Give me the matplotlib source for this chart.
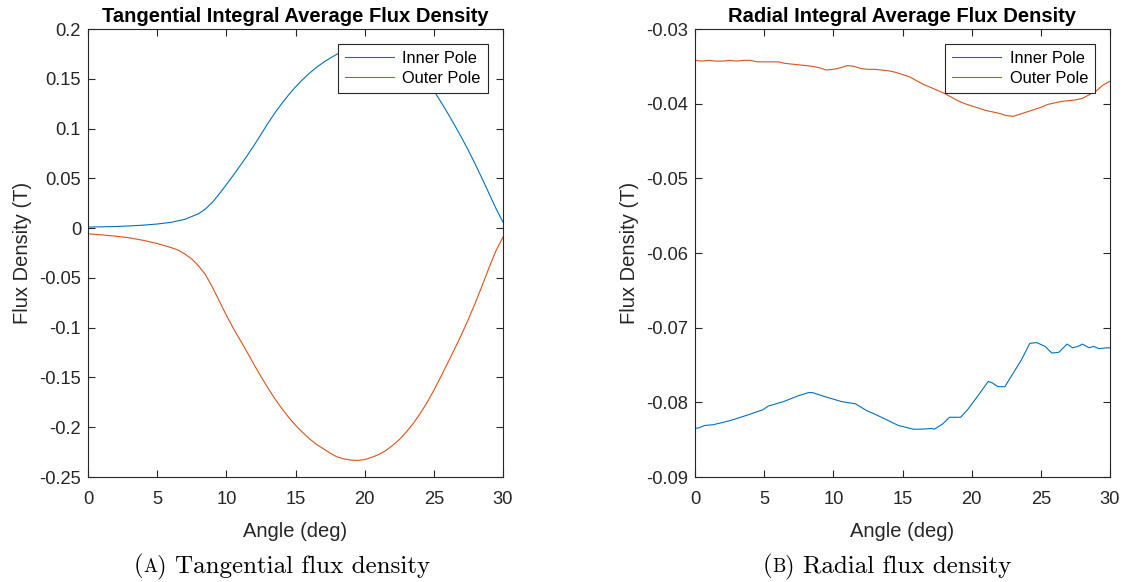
import matplotlib
matplotlib.use("Agg")
import matplotlib.pyplot as plt
from matplotlib.ticker import FormatStrFormatter
from matplotlib.offsetbox import TextArea, HPacker, AnnotationBbox

# tangential integral average flux density (T)
tan_in_angle = [0, 1, 2, 3, 4, 5, 6, 7, 8, 8.5, 9, 9.5, 10, 10.5, 11, 11.5, 12, 12.5, 13, 13.5,
                14, 14.5, 15, 15.5, 16, 16.5, 17, 17.5, 18, 18.5, 19, 19.5, 20, 21, 22, 23, 24,
                25, 25.5, 26, 26.5, 27, 27.5, 28, 28.5, 29, 29.5, 30]
tan_inner = [0.001, 0.0013, 0.0016, 0.0022, 0.003, 0.0041, 0.0058, 0.0088, 0.0145, 0.0194,
             0.026, 0.0345, 0.0437, 0.053, 0.0627, 0.0727, 0.083, 0.094, 0.1052, 0.1155,
             0.125, 0.1338, 0.1418, 0.149, 0.1555, 0.1613, 0.1663, 0.1707, 0.1747, 0.178,
             0.1808, 0.1828, 0.184, 0.1835, 0.178, 0.168, 0.155, 0.138, 0.127, 0.1155,
             0.1035, 0.091, 0.078, 0.064, 0.0495, 0.0345, 0.0195, 0.006]

tan_out_angle = [0, 1, 2, 3, 4, 5, 6, 6.5, 7, 7.5, 8, 8.5, 9, 9.5, 10, 10.5, 11, 11.5, 12, 12.5,
                 13, 13.5, 14, 14.5, 15, 15.5, 16, 16.5, 17, 17.5, 18, 18.5, 19, 19.5, 20, 20.5,
                 21, 21.5, 22, 22.5, 23, 23.5, 24, 24.5, 25, 25.5, 26, 26.5, 27, 27.5, 28, 28.5,
                 29, 29.5, 30]
tan_outer = [-0.0057, -0.0068, -0.0081, -0.0098, -0.0123, -0.0155, -0.0195, -0.022, -0.026,
             -0.031, -0.038, -0.047, -0.0595, -0.0735, -0.0875, -0.1005, -0.1125, -0.1245,
             -0.137, -0.149, -0.1605, -0.1712, -0.181, -0.190, -0.198, -0.205, -0.2115,
             -0.217, -0.2215, -0.226, -0.2298, -0.2318, -0.233, -0.2333, -0.2325, -0.2303,
             -0.2275, -0.2238, -0.2185, -0.2125, -0.205, -0.1965, -0.1865, -0.1755, -0.163,
             -0.1495, -0.1355, -0.1215, -0.107, -0.0915, -0.075, -0.0575, -0.0395, -0.0225,
             -0.009]

# radial integral average flux density (T)
rad_out_angle = [0.0, 0.5, 1.0, 1.5, 2.0, 2.5, 3.0, 3.5, 4.0, 4.5, 5.0, 5.5, 6.0, 6.5, 7.0, 7.5,
                 8.0, 8.5, 9.0, 9.5, 10.0, 10.5, 11.0, 11.5, 12.0, 12.5, 13.0, 13.5, 14.0, 14.5,
                 15.0, 15.5, 16.0, 16.5, 17.0, 17.5, 18.0, 18.5, 19.0, 19.5, 20.0, 20.5, 21.0,
                 21.5, 22.0, 22.5, 23.0, 23.5, 24.0, 24.5, 25.0, 25.5, 26.0, 26.5, 27.0, 27.5,
                 28.0, 28.5, 29.0, 29.5, 30.0]
rad_outer = [-0.0342, -0.0343, -0.0342, -0.0343, -0.0343, -0.0342, -0.0343, -0.0342, -0.0342,
             -0.0344, -0.0344, -0.0344, -0.0344, -0.0346, -0.0347, -0.0348, -0.0349, -0.0350,
             -0.0352, -0.0355, -0.0354, -0.0352, -0.0349, -0.0350, -0.0353, -0.0354, -0.0354,
             -0.0355, -0.0356, -0.0358, -0.0361, -0.0364, -0.0369, -0.0374, -0.0378, -0.0382,
             -0.0386, -0.0391, -0.0396, -0.0400, -0.0403, -0.0406, -0.0409, -0.0411, -0.0413,
             -0.0416, -0.0417, -0.0414, -0.0411, -0.0408, -0.0405, -0.0401, -0.0399, -0.0397,
             -0.0396, -0.0395, -0.0393, -0.0388, -0.0383, -0.0375, -0.0370]

rad_in_angle = [0.0, 0.3, 0.7, 1.3, 2.0, 2.8, 3.8, 4.9, 5.3, 6.4, 7.5, 8.2, 8.5, 9.5, 10.6,
                11.6, 12.4, 12.9, 13.7, 14.7, 15.8, 16.3, 17.1, 17.3, 17.9, 18.4, 19.2, 19.7,
                20.5, 21.2, 21.5, 21.9, 22.4, 22.8, 23.6, 24.2, 24.7, 25.3, 25.8, 26.3, 26.9,
                27.3, 27.7, 28.0, 28.5, 28.8, 29.2, 29.8, 30.0]
rad_inner = [-0.0835, -0.0834, -0.0831, -0.0830, -0.0827, -0.0823, -0.0817, -0.0810, -0.0805,
             -0.0799, -0.0791, -0.0787, -0.0787, -0.0793, -0.0799, -0.0802, -0.0811, -0.0815,
             -0.0822, -0.0831, -0.0836, -0.0836, -0.0835, -0.0836, -0.0829, -0.0820, -0.0820,
             -0.0810, -0.0790, -0.0772, -0.0774, -0.0779, -0.0779, -0.0767, -0.0743, -0.0721,
             -0.0720, -0.0725, -0.0734, -0.0733, -0.0722, -0.0727, -0.0725, -0.0722, -0.0727,
             -0.0725, -0.0728, -0.0727, -0.0727]

plt.rcParams['font.family'] = ['Liberation Sans', 'DejaVu Sans']
plt.rcParams['axes.unicode_minus'] = False

blue = '#0072BD'
orange = '#D95319'
dark = '#262626'

fig = plt.figure(figsize=(11.25, 5.82), dpi=100)
ax1 = fig.add_axes([88 / 1125, 1 - 477 / 582, 415 / 1125, 448 / 582])
ax2 = fig.add_axes([695 / 1125, 1 - 477 / 582, 415 / 1125, 448 / 582])


def style(ax, title):
    ax.set_xlim(0, 30)
    ax.set_xticks([0, 5, 10, 15, 20, 25, 30])
    ax.tick_params(direction='in', top=True, right=True, length=5, width=0.8,
                   colors=dark, labelsize=13.2)
    ax.tick_params(axis='x', pad=10)
    ax.tick_params(axis='y', pad=5)
    for s in ax.spines.values():
        s.set_color(dark)
        s.set_linewidth(0.8)
    ax.set_title(title, fontsize=14.5, fontweight='bold', pad=5)
    ax.set_xlabel("Angle (deg)", fontsize=14.5, color=dark, labelpad=10)
    ax.set_ylabel("Flux Density (T)", fontsize=14.5, color=dark, labelpad=5)
    ax.yaxis.set_major_formatter(FormatStrFormatter('%g'))
    leg = ax.legend(loc='upper right', fontsize=11.8, fancybox=False, framealpha=1,
                    edgecolor=dark, handlelength=3.0, borderaxespad=0.9,
                    borderpad=0.45, labelspacing=0.3, handletextpad=0.5)
    leg.get_frame().set_linewidth(0.8)


ax1.plot(tan_in_angle, tan_inner, color=blue, lw=0.8, label='Inner Pole')
ax1.plot(tan_out_angle, tan_outer, color=orange, lw=0.8, label='Outer Pole')
ax1.set_ylim(-0.25, 0.2)
ax1.set_yticks([-0.25, -0.2, -0.15, -0.1, -0.05, 0, 0.05, 0.1, 0.15, 0.2])
style(ax1, "Tangential Integral Average Flux Density")

ax2.plot(rad_in_angle, rad_inner, color=blue, lw=0.8, label='Inner Pole')
ax2.plot(rad_out_angle, rad_outer, color=orange, lw=0.8, label='Outer Pole')
ax2.set_ylim(-0.09, -0.03)
ax2.set_yticks([-0.09, -0.08, -0.07, -0.06, -0.05, -0.04, -0.03])
style(ax2, "Radial Integral Average Flux Density")


def caption(xc, letter, text):
    big = dict(fontsize=18, family='cmr10', color='black')
    small = dict(fontsize=13.5, family='cmr10', color='black')
    box = HPacker(children=[TextArea("(", textprops=big),
                            TextArea(letter, textprops=small),
                            TextArea(") " + text, textprops=big)],
                  align='baseline', pad=0, sep=0)
    ab = AnnotationBbox(box, (xc, 1 - 566 / 582), xycoords='figure fraction',
                        frameon=False, box_alignment=(0.5, 0.5))
    fig.add_artist(ab)


caption(282 / 1125, "A", "Tangential flux density")
caption(887 / 1125, "B", "Radial flux density")

fig.savefig("out.png", dpi=100)
